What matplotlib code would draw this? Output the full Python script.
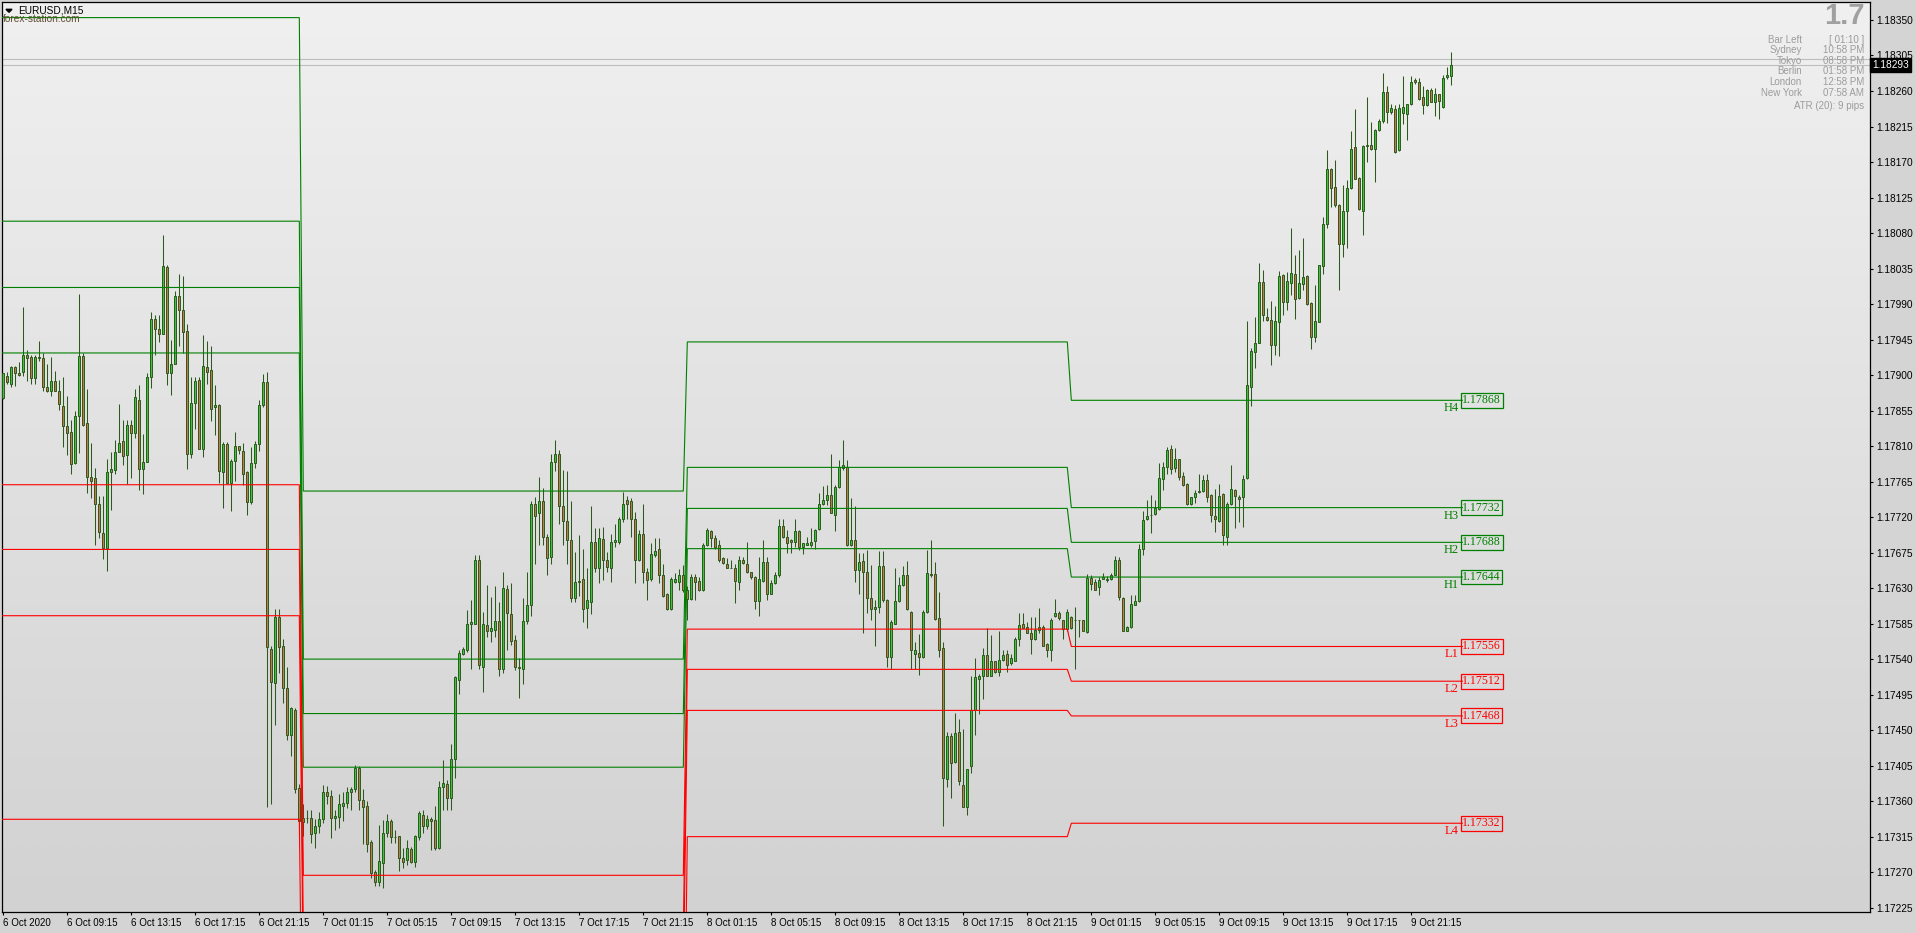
import numpy as np
import matplotlib
matplotlib.use("Agg")
import matplotlib.pyplot as plt
from matplotlib.colors import LinearSegmentedColormap
from matplotlib.patches import Polygon
import matplotlib.transforms as mtransforms

plt.rcParams['font.family'] = ['Liberation Sans', 'DejaVu Sans']

# ---------------- data ----------------
symbol = "EURUSD,M15"
watermark = "forex-station.com"

open_d6 = [1.17871,1.17899,1.17889,1.17910,1.17903,1.17904,1.17925,1.17923,1.17896,1.17923,
           1.17922,1.17885,1.17880,1.17892,1.17880,1.17861,1.17835,1.17828,1.17788,1.17848,
           1.17924,1.17839,1.17771,1.17769,1.17737,1.17700,1.17681,1.17777,1.17780,1.17803,
           1.17816,1.17799,1.17837,1.17827,1.17869,1.17781,1.17790,1.17897,1.17971,1.17958,
           1.17952,1.18037,1.17903,1.17914,1.18000,1.17983,1.17956,1.17800,1.17864,1.17894,
           1.17806,1.17910,1.17906,1.17859,1.17862,1.17777,1.17812,1.17763,1.17791,1.17810,
           1.17804,1.17777,1.17739,1.17788,1.17812,1.17862,1.17891,1.17553,1.17510,1.17594,
           1.17557,1.17503,1.17444,1.17475,1.17377]
high_d6 = [1.17903,1.17904,1.17911,1.17911,1.17917,1.17986,1.17932,1.17925,1.17926,1.17943,
           1.17928,1.17914,1.17923,1.17905,1.17894,1.17897,1.17873,1.17843,1.17855,1.18003,
           1.17928,1.17882,1.17814,1.17782,1.17747,1.17747,1.17793,1.17803,1.17818,1.17863,
           1.17843,1.17843,1.17843,1.17882,1.17888,1.17825,1.17903,1.17980,1.17976,1.17976,
           1.18078,1.18040,1.17945,1.18007,1.18028,1.18025,1.17965,1.17898,1.17897,1.17897,
           1.17951,1.17943,1.17937,1.17888,1.17863,1.17815,1.17815,1.17793,1.17828,1.17810,
           1.17814,1.17778,1.17809,1.17816,1.17868,1.17901,1.17904,1.17556,1.17603,1.17603,
           1.17566,1.17530,1.17479,1.17478,1.17382]
low_d6 = [1.17870,1.17889,1.17885,1.17886,1.17899,1.17899,1.17893,1.17889,1.17889,1.17918,
          1.17880,1.17878,1.17874,1.17880,1.17856,1.17809,1.17799,1.17774,1.17787,1.17801,
          1.17835,1.17751,1.17744,1.17684,1.17693,1.17667,1.17652,1.17729,1.17775,1.17803,
          1.17786,1.17762,1.17770,1.17820,1.17754,1.17749,1.17790,1.17884,1.17925,1.17942,
          1.17952,1.17888,1.17875,1.17914,1.17937,1.17928,1.17781,1.17795,1.17832,1.17806,
          1.17796,1.17889,1.17842,1.17824,1.17763,1.17732,1.17763,1.17728,1.17766,1.17800,
          1.17761,1.17723,1.17737,1.17782,1.17804,1.17859,1.17353,1.17356,1.17456,1.17522,
          1.17484,1.17437,1.17417,1.17370,1.17318]
close_d6 = [1.17902,1.17891,1.17910,1.17902,1.17900,1.17925,1.17922,1.17896,1.17923,1.17921,
            1.17885,1.17880,1.17893,1.17880,1.17863,1.17835,1.17827,1.17787,1.17848,1.17924,
            1.17837,1.17771,1.17766,1.17736,1.17701,1.17681,1.17777,1.17781,1.17803,1.17814,
            1.17797,1.17837,1.17826,1.17872,1.17781,1.17790,1.17898,1.17971,1.17959,1.17952,
            1.18038,1.17903,1.17914,1.18000,1.17982,1.17955,1.17800,1.17864,1.17893,1.17806,
            1.17911,1.17904,1.17857,1.17862,1.17778,1.17812,1.17763,1.17791,1.17810,1.17805,
            1.17775,1.17739,1.17788,1.17812,1.17862,1.17891,1.17555,1.17511,1.17594,1.17555,
            1.17503,1.17444,1.17478,1.17376,1.17335]

open_d7 = [1.17334,1.17339,1.17338,1.17319,1.17329,1.17337,1.17372,1.17367,1.17338,1.17340,
           1.17354,1.17358,1.17371,1.17375,1.17402,1.17362,1.17354,1.17308,1.17270,1.17257,
           1.17281,1.17320,1.17335,1.17314,1.17316,1.17288,1.17285,1.17299,1.17283,1.17315,
           1.17343,1.17329,1.17337,1.17336,1.17301,1.17378,1.17382,1.17364,1.17414,1.17514,
           1.17547,1.17552,1.17585,1.17585,1.17666,1.17530,1.17583,1.17576,1.17577,1.17588,
           1.17527,1.17629,1.17597,1.17564,1.17530,1.17527,1.17588,1.17608,1.17737,1.17725,
           1.17740,1.17695,1.17669,1.17790,1.17800,1.17734,1.17715,1.17691,1.17617,1.17638,
           1.17641,1.17605,1.17612,1.17689,1.17656,1.17692,1.17666,1.17656,1.17688,1.17689,
           1.17717,1.17742,1.17740,1.17718,1.17665,1.17699,1.17651,1.17641,1.17672,1.17680,
           1.17647,1.17622,1.17603,1.17638,1.17638,1.17647]
high_d7 = [1.17357,1.17349,1.17349,1.17337,1.17346,1.17380,1.17379,1.17374,1.17349,1.17369,
           1.17371,1.17378,1.17378,1.17406,1.17404,1.17376,1.17360,1.17311,1.17273,1.17330,
           1.17336,1.17344,1.17337,1.17323,1.17316,1.17301,1.17311,1.17302,1.17317,1.17348,
           1.17349,1.17342,1.17340,1.17354,1.17386,1.17412,1.17387,1.17432,1.17518,1.17552,
           1.17555,1.17602,1.17615,1.17672,1.17672,1.17600,1.17634,1.17619,1.17633,1.17613,
           1.17651,1.17634,1.17637,1.17571,1.17541,1.17617,1.17651,1.17740,1.17746,1.17771,
           1.17757,1.17699,1.17800,1.17818,1.17805,1.17780,1.17778,1.17740,1.17676,1.17697,
           1.17680,1.17655,1.17734,1.17706,1.17706,1.17708,1.17676,1.17699,1.17711,1.17720,
           1.17752,1.17747,1.17744,1.17727,1.17703,1.17737,1.17655,1.17687,1.17693,1.17693,
           1.17661,1.17624,1.17644,1.17649,1.17654,1.17659]
low_d7 = [1.17316,1.17332,1.17307,1.17301,1.17319,1.17332,1.17357,1.17313,1.17323,1.17326,
          1.17335,1.17351,1.17349,1.17372,1.17349,1.17306,1.17296,1.17262,1.17252,1.17252,
          1.17250,1.17314,1.17307,1.17307,1.17271,1.17275,1.17279,1.17281,1.17277,1.17311,
          1.17319,1.17325,1.17298,1.17298,1.17299,1.17349,1.17349,1.17349,1.17389,1.17496,
          1.17545,1.17549,1.17528,1.17585,1.17528,1.17498,1.17568,1.17562,1.17568,1.17519,
          1.17522,1.17552,1.17558,1.17526,1.17491,1.17509,1.17585,1.17595,1.17660,1.17685,
          1.17685,1.17646,1.17660,1.17778,1.17711,1.17685,1.17661,1.17613,1.17612,1.17620,
          1.17587,1.17579,1.17597,1.17651,1.17637,1.17640,1.17651,1.17638,1.17682,1.17686,
          1.17714,1.17718,1.17695,1.17637,1.17664,1.17637,1.17615,1.17639,1.17670,1.17637,
          1.17619,1.17602,1.17602,1.17636,1.17628,1.17625]
close_d7 = [1.17339,1.17338,1.17318,1.17328,1.17337,1.17372,1.17367,1.17338,1.17341,1.17356,
            1.17358,1.17371,1.17376,1.17402,1.17362,1.17353,1.17306,1.17269,1.17258,1.17284,
            1.17320,1.17335,1.17314,1.17315,1.17288,1.17283,1.17300,1.17283,1.17316,1.17345,
            1.17329,1.17337,1.17335,1.17300,1.17378,1.17383,1.17364,1.17414,1.17517,1.17548,
            1.17553,1.17585,1.17587,1.17666,1.17533,1.17584,1.17576,1.17579,1.17588,1.17527,
            1.17630,1.17599,1.17563,1.17530,1.17529,1.17588,1.17609,1.17737,1.17722,1.17741,
            1.17695,1.17668,1.17790,1.17800,1.17734,1.17715,1.17691,1.17617,1.17638,1.17639,
            1.17604,1.17615,1.17689,1.17656,1.17693,1.17666,1.17657,1.17688,1.17691,1.17718,
            1.17737,1.17737,1.17718,1.17666,1.17699,1.17650,1.17640,1.17673,1.17677,1.17647,
            1.17620,1.17603,1.17642,1.17642,1.17647,1.17628]

open_d8 = [1.17628,1.17616,1.17644,1.17639,1.17627,1.17685,1.17702,1.17694,1.17685,1.17668,
           1.17661,1.17656,1.17656,1.17638,1.17666,1.17661,1.17650,1.17644,1.17614,1.17639,
           1.17663,1.17623,1.17636,1.17646,1.17709,1.17695,1.17691,1.17689,1.17702,1.17682,
           1.17685,1.17684,1.17690,1.17705,1.17737,1.17742,1.17748,1.17723,1.17758,1.17782,
           1.17784,1.17685,1.17691,1.17653,1.17664,1.17651,1.17618,1.17603,1.17606,1.17658,
           1.17615,1.17543,1.17585,1.17614,1.17634,1.17647,1.17600,1.17547,1.17548,1.17543,
           1.17600,1.17648,1.17648,1.17592,1.17554,1.17388,1.17443,1.17409,1.17447,1.17381,
           1.17353,1.17404,1.17475,1.17515,1.17518,1.17545,1.17519,1.17537,1.17524,1.17539,
           1.17547,1.17535,1.17538,1.17566,1.17585,1.17581,1.17573,1.17566,1.17577,1.17581,
           1.17559,1.17552,1.17595,1.17598,1.17590,1.17578]
high_d8 = [1.17633,1.17648,1.17648,1.17644,1.17687,1.17706,1.17704,1.17697,1.17691,1.17670,
           1.17668,1.17666,1.17661,1.17671,1.17670,1.17688,1.17651,1.17645,1.17670,1.17691,
           1.17669,1.17640,1.17650,1.17718,1.17718,1.17704,1.17692,1.17718,1.17704,1.17687,
           1.17695,1.17706,1.17705,1.17750,1.17760,1.17761,1.17800,1.17761,1.17792,1.17818,
           1.17792,1.17744,1.17734,1.17674,1.17675,1.17678,1.17659,1.17615,1.17677,1.17677,
           1.17616,1.17590,1.17656,1.17644,1.17658,1.17664,1.17601,1.17562,1.17572,1.17602,
           1.17678,1.17691,1.17663,1.17625,1.17562,1.17448,1.17446,1.17472,1.17464,1.17452,
           1.17401,1.17518,1.17542,1.17521,1.17554,1.17579,1.17571,1.17538,1.17575,1.17551,
           1.17551,1.17547,1.17568,1.17599,1.17599,1.17587,1.17594,1.17594,1.17605,1.17583,
           1.17560,1.17592,1.17616,1.17601,1.17590,1.17603]
low_d8 = [1.17590,1.17615,1.17615,1.17626,1.17626,1.17683,1.17682,1.17680,1.17663,1.17660,
          1.17655,1.17655,1.17611,1.17627,1.17661,1.17649,1.17642,1.17604,1.17595,1.17638,
          1.17615,1.17622,1.17635,1.17644,1.17693,1.17675,1.17675,1.17682,1.17678,1.17673,
          1.17684,1.17682,1.17680,1.17704,1.17735,1.17735,1.17725,1.17702,1.17757,1.17780,
          1.17683,1.17683,1.17638,1.17623,1.17573,1.17598,1.17589,1.17557,1.17598,1.17613,
          1.17530,1.17527,1.17584,1.17613,1.17633,1.17602,1.17528,1.17528,1.17520,1.17542,
          1.17598,1.17644,1.17590,1.17543,1.17328,1.17378,1.17364,1.17408,1.17380,1.17352,
          1.17342,1.17396,1.17444,1.17471,1.17489,1.17518,1.17518,1.17522,1.17518,1.17538,
          1.17524,1.17532,1.17537,1.17557,1.17579,1.17573,1.17547,1.17564,1.17573,1.17556,
          1.17543,1.17538,1.17594,1.17590,1.17566,1.17576]
close_d8 = [1.17616,1.17644,1.17638,1.17628,1.17685,1.17704,1.17694,1.17682,1.17666,1.17662,
            1.17656,1.17656,1.17639,1.17666,1.17662,1.17650,1.17644,1.17614,1.17641,1.17663,
            1.17622,1.17636,1.17646,1.17709,1.17695,1.17687,1.17688,1.17702,1.17682,1.17687,
            1.17687,1.17688,1.17704,1.17737,1.17742,1.17748,1.17725,1.17758,1.17783,1.17786,
            1.17685,1.17691,1.17653,1.17663,1.17651,1.17617,1.17604,1.17606,1.17658,1.17615,
            1.17543,1.17587,1.17614,1.17634,1.17647,1.17603,1.17552,1.17551,1.17543,1.17600,
            1.17649,1.17647,1.17591,1.17552,1.17389,1.17443,1.17408,1.17446,1.17385,1.17353,
            1.17401,1.17475,1.17517,1.17519,1.17545,1.17519,1.17537,1.17524,1.17539,1.17545,
            1.17533,1.17542,1.17566,1.17583,1.17580,1.17573,1.17566,1.17577,1.17581,1.17557,
            1.17552,1.17590,1.17599,1.17592,1.17578,1.17600]

open_d9 = [1.17594,1.17590,1.17590,1.17590,1.17574,1.17643,1.17638,1.17632,1.17642,1.17640,
           1.17641,1.17647,1.17666,1.17618,1.17575,1.17581,1.17609,1.17614,1.17680,1.17717,
           1.17723,1.17724,1.17730,1.17768,1.17783,1.17806,1.17782,1.17793,1.17772,1.17762,
           1.17736,1.17745,1.17752,1.17753,1.17767,1.17748,1.17721,1.17715,1.17749,1.17695,
           1.17737,1.17754,1.17746,1.17746,1.17769,1.17885,1.17929,1.17941,1.18018,1.17974,
           1.17970,1.17938,1.17967,1.18027,1.17992,1.18017,1.18028,1.17998,1.18016,1.18025,
           1.17991,1.17948,1.17967,1.18038,1.18091,1.18161,1.18138,1.18116,1.18066,1.18108,
           1.18137,1.18189,1.18150,1.18108,1.18190,1.18192,1.18186,1.18210,1.18222,1.18259,
           1.18233,1.18237,1.18185,1.18232,1.18231,1.18243,1.18274,1.18272,1.18252,1.18242,
           1.18261,1.18246,1.18256,1.18240,1.18278,1.18279]
high_d9 = [1.17595,1.17606,1.17590,1.17590,1.17648,1.17647,1.17641,1.17644,1.17649,1.17645,
           1.17649,1.17671,1.17670,1.17619,1.17582,1.17621,1.17621,1.17686,1.17728,1.17742,
           1.17748,1.17742,1.17788,1.17790,1.17809,1.17811,1.17807,1.17794,1.17777,1.17763,
           1.17746,1.17754,1.17775,1.17773,1.17774,1.17749,1.17756,1.17762,1.17750,1.17739,
           1.17786,1.17755,1.17748,1.17773,1.17968,1.17934,1.17973,1.18042,1.18033,1.17985,
           1.17994,1.17987,1.18032,1.18028,1.18031,1.18087,1.18052,1.18058,1.18074,1.18027,
           1.17992,1.18014,1.18040,1.18100,1.18185,1.18162,1.18173,1.18117,1.18141,1.18147,
           1.18209,1.18237,1.18151,1.18192,1.18252,1.18221,1.18212,1.18225,1.18283,1.18266,
           1.18244,1.18242,1.18243,1.18279,1.18244,1.18279,1.18276,1.18277,1.18266,1.18263,
           1.18264,1.18264,1.18256,1.18280,1.18290,1.18310]
low_d9 = [1.17578,1.17528,1.17568,1.17575,1.17573,1.17627,1.17628,1.17621,1.17641,1.17638,
          1.17640,1.17646,1.17615,1.17575,1.17575,1.17580,1.17608,1.17613,1.17672,1.17716,
          1.17700,1.17723,1.17729,1.17754,1.17775,1.17775,1.17777,1.17767,1.17760,1.17735,
          1.17735,1.17738,1.17750,1.17752,1.17739,1.17714,1.17701,1.17714,1.17684,1.17684,
          1.17735,1.17706,1.17714,1.17707,1.17768,1.17861,1.17909,1.17940,1.17968,1.17968,
          1.17913,1.17925,1.17924,1.17976,1.17982,1.18002,1.17971,1.17997,1.18008,1.17989,
          1.17933,1.17942,1.17967,1.18028,1.18086,1.18113,1.18113,1.18008,1.18049,1.18061,
          1.18136,1.18148,1.18109,1.18077,1.18170,1.18185,1.18145,1.18209,1.18220,1.18220,
          1.18231,1.18182,1.18184,1.18218,1.18198,1.18242,1.18269,1.18249,1.18231,1.18241,
          1.18246,1.18228,1.18225,1.18239,1.18275,1.18268]
close_d9 = [1.17580,1.17590,1.17590,1.17576,1.17643,1.17635,1.17628,1.17640,1.17644,1.17641,
            1.17647,1.17666,1.17619,1.17575,1.17581,1.17610,1.17614,1.17680,1.17716,1.17721,
            1.17723,1.17731,1.17770,1.17784,1.17805,1.17781,1.17794,1.17771,1.17761,1.17736,
            1.17745,1.17751,1.17753,1.17767,1.17746,1.17723,1.17717,1.17747,1.17697,1.17737,
            1.17756,1.17747,1.17743,1.17768,1.17888,1.17930,1.17940,1.18018,1.17976,1.17970,
            1.17938,1.17968,1.18025,1.17992,1.18019,1.18029,1.17997,1.18017,1.18024,1.17990,
            1.17948,1.17968,1.18039,1.18092,1.18161,1.18137,1.18115,1.18066,1.18108,1.18137,
            1.18187,1.18149,1.18110,1.18190,1.18192,1.18186,1.18211,1.18222,1.18259,1.18233,
            1.18238,1.18183,1.18239,1.18240,1.18244,1.18272,1.18271,1.18250,1.18242,1.18261,
            1.18246,1.18256,1.18247,1.18277,1.18280,1.18293]

# daily Camarilla levels (H4, H3, H2, H1, L1, L2, L3, L4)
pivot_names = ["H4", "H3", "H2", "H1", "L1", "L2", "L3", "L4"]
pivots_d6 = [1.18353, 1.18095, 1.18011, 1.17928, 1.17761, 1.17679, 1.17595, 1.17337]
pivots_d7 = [1.17753, 1.17540, 1.17471, 1.17403, 1.17266, 1.17198, 1.17130, 1.16924]
pivots_d8 = [1.17942, 1.17783, 1.17731, 1.17680, 1.17578, 1.17527, 1.17475, 1.17315]
pivots_d9 = [1.17868, 1.17732, 1.17688, 1.17644, 1.17556, 1.17512, 1.17468, 1.17332]

xtick_labels = ["6 Oct 2020", "6 Oct 09:15", "6 Oct 13:15", "6 Oct 17:15", "6 Oct 21:15",
                "7 Oct 01:15", "7 Oct 05:15", "7 Oct 09:15", "7 Oct 13:15", "7 Oct 17:15", "7 Oct 21:15",
                "8 Oct 01:15", "8 Oct 05:15", "8 Oct 09:15", "8 Oct 13:15", "8 Oct 17:15", "8 Oct 21:15",
                "9 Oct 01:15", "9 Oct 05:15", "9 Oct 09:15", "9 Oct 13:15", "9 Oct 17:15", "9 Oct 21:15"]
xtick_step = 16
ytick_first, ytick_step, ytick_count = 1.17225, 0.00045, 26

bid_price, ask_price = 1.18293, 1.18300
spread_text = "1.7"
info_labels = ["Bar Left", "Sydney", "Tokyo", "Berlin", "London", "New York"]
info_values = ["[ 01:10 ]", "10:58 PM", "08:58 PM", "01:58 PM", "12:58 PM", "07:58 AM"]
atr_text = "ATR (20): 9 pips"

# ---------------- assemble ----------------
opens = np.array(open_d6 + open_d7 + open_d8 + open_d9)
highs = np.array(high_d6 + high_d7 + high_d8 + high_d9)
lows = np.array(low_d6 + low_d7 + low_d8 + low_d9)
closes = np.array(close_d6 + close_d7 + close_d8 + close_d9)
bars_per_day = [len(open_d6), len(open_d7), len(open_d8), len(open_d9)]
pivots = np.array([pivots_d6, pivots_d7, pivots_d8, pivots_d9])
n = len(opens)
x = np.arange(n)

# ---------------- figure ----------------
W, H = 1916, 933
fig = plt.figure(figsize=(W / 100, H / 100), dpi=100)
fig.patch.set_facecolor('#d4d4d4')

def fx(px):
    return px / W

def fy(py):
    return 1 - py / H

ax_left, ax_right, ax_top, ax_bottom = 2, 1870, 2, 912
ax = fig.add_axes([fx(ax_left), fy(ax_bottom), (ax_right - ax_left) / W, (ax_bottom - ax_top) / H])

grad = LinearSegmentedColormap.from_list('bg', ['#d2d2d2', '#f0f0f0'])
ax.imshow(np.linspace(0, 1, 256).reshape(-1, 1), extent=[0, 1, 0, 1], transform=ax.transAxes,
          cmap=grad, aspect='auto', origin='lower', zorder=0, interpolation='bilinear')

# bid / ask lines
ax.axhline(ask_price, color='#bdbdbd', lw=0.8, zorder=1)
ax.axhline(bid_price, color='#bdbdbd', lw=0.8, zorder=1)

# candles
edge_col = '#2b5a1c'
bull_col = '#3cc43c'
bear_col = '#c4784c'
bull = closes >= opens
ax.vlines(x, lows, highs, color=edge_col, lw=0.75, zorder=3)
body_lo = np.minimum(opens, closes)
body_h = np.abs(closes - opens)
ax.bar(x, body_h, bottom=body_lo, width=0.55,
       color=np.where(bull, bull_col, bear_col), edgecolor=edge_col, linewidth=0.7, zorder=4)

# pivot lines
x_start = -0.33
x_end = n - 1 + 2.75
for k, name in enumerate(pivot_names):
    col = '#008000' if name.startswith('H') else '#ff0000'
    vals = np.repeat(pivots[:, k], bars_per_day)
    xs = np.concatenate([[x_start], x, [x_end]])
    ys = np.concatenate([[vals[0]], vals, [vals[-1]]])
    ax.plot(xs, ys, color=col, lw=0.8, zorder=5, solid_joinstyle='miter')
    last = pivots[-1, k]
    ax.text(x_end, last, f"{last:.5f}", ha='left', va='center', color=col,
            fontsize=8.6, family=['Liberation Serif', 'DejaVu Serif'], zorder=7,
            bbox=dict(boxstyle='square,pad=0.12', fc='none', ec=col, lw=0.9))
    ax.annotate(name, xy=(x_end, last), xytext=(-2.6, -1.4), textcoords='offset points',
                ha='right', va='top', color=col, fontsize=9,
                family=['Liberation Serif', 'DejaVu Serif'], zorder=7)

ax.set_xlim(x_start, 466.67)
ax.set_ylim(1.172195, 1.183728)

# axes styling
for sp in ax.spines.values():
    sp.set_color('black')
    sp.set_linewidth(0.9)
ax.yaxis.tick_right()
yt = ytick_first + ytick_step * np.arange(ytick_count)
ax.set_yticks(yt)
ax.set_yticklabels([f"{v:.5f}" for v in yt])
ax.set_xticks(np.arange(len(xtick_labels)) * xtick_step)
ax.set_xticklabels(xtick_labels)
for lab in ax.get_xticklabels():
    lab.set_horizontalalignment('left')
ax.tick_params(axis='y', direction='out', length=2.5, width=0.8, pad=2, labelsize=7.3, colors='black')
ax.tick_params(axis='x', direction='out', length=2.5, width=0.8, pad=1.5, labelsize=7, colors='black')

# bid price label on axis
trans = mtransforms.blended_transform_factory(ax.transAxes, ax.transData)
ax.text(1.0012, bid_price, f"{bid_price:.5f}", transform=trans, ha='left', va='center',
        color='white', fontsize=7.3, zorder=10, clip_on=False,
        bbox=dict(boxstyle='square,pad=0.22', fc='black', ec='black'))

# title + watermark
fig.add_artist(Polygon([[fx(6), fy(9.3)], [fx(12), fy(9.3)], [fx(9), fy(12.3)]],
                       closed=True, transform=fig.transFigure, color='black'))
fig.text(fx(18), fy(10.3), symbol, ha='left', va='center', fontsize=7.3, color='black')
fig.text(fx(2.7), fy(19.5), watermark, ha='left', va='center', fontsize=7.3, color='#5e4e32')

# info panel
info_col = '#9c9c9c'
fig.text(fx(1865), fy(24.5), spread_text, ha='right', va='baseline', fontsize=21,
         fontweight='bold', color='#a0a0a0')
row_y = [39, 49.6, 60.2, 70.8, 81.4, 92]
for lab, val, yy in zip(info_labels, info_values, row_y):
    fig.text(fx(1802), fy(yy + 3.6), lab, ha='right', va='baseline', fontsize=7, color=info_col)
    fig.text(fx(1864), fy(yy + 3.6), val, ha='right', va='baseline', fontsize=7, color=info_col)
fig.text(fx(1864), fy(105.3 + 3.6), atr_text, ha='right', va='baseline', fontsize=7, color=info_col)

fig.savefig('out.png', dpi=100, facecolor=fig.get_facecolor())
